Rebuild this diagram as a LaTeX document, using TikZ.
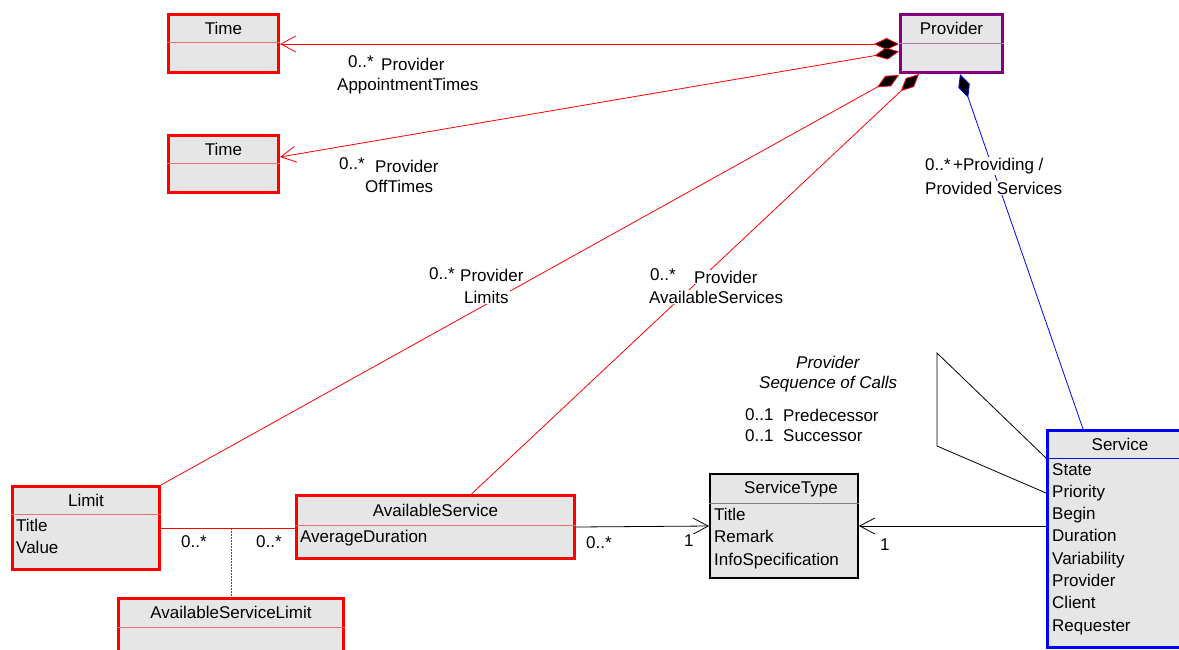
\documentclass[tikz,border=0pt]{standalone}
\usepackage{fontspec}
\setmainfont{Liberation Sans}
\usetikzlibrary{arrows.meta}
\definecolor{boxgray}{RGB}{230,230,230}
\definecolor{umlpurple}{RGB}{128,0,128}
\definecolor{sepred}{RGB}{240,110,110}
\definecolor{seppurple}{RGB}{180,120,180}
\tikzset{
	cls/.style = {rectangle, fill=boxgray, line width=3pt, inner sep=0pt,
		anchor=north west},
	cls_r/.style = {cls, draw=red},
	cls_p/.style = {cls, draw=umlpurple},
	cls_b/.style = {cls, draw=blue},
	cls_k/.style = {cls, draw=black, line width=2pt},
	ttl/.style = {inner sep=0pt, font=\fontsize{17}{20}\selectfont},
	att/.style = {inner sep=0pt, anchor=north west, align=left,
		font=\fontsize{17}{22.3}\selectfont},
	lbl/.style = {inner sep=1pt, anchor=west, fill=white,
		font=\fontsize{17}{20}\selectfont},
	comp/.style = {draw=#1, line width=0.8pt,
		{Diamond[length=25pt,width=12pt,fill=black]}-},
	compnav/.style = {draw=#1, line width=0.8pt,
		{Diamond[length=25pt,width=12pt,fill=black]}-{Straight Barb[length=15pt,width=16pt]}},
	nav/.style = {draw=#1, line width=0.8pt,
		-{Straight Barb[length=15pt,width=16pt]}}
}

\begin{document}
\begin{tikzpicture}[x=1pt,y=-1pt]
\useasboundingbox (0,0) rectangle (1179,649);
% classes
\node[cls_r, minimum width=110pt, minimum height=58pt] (time1) at (167,13) {};
\node[cls_r, minimum width=110pt, minimum height=57pt] (time2) at (167,134) {};
\node[cls_p, minimum width=102pt, minimum height=58pt] (provider) at (899,13) {};
\node[cls_b, minimum width=145pt, minimum height=217pt] (service) at (1046,429) {};
\node[cls_r, minimum width=147pt, minimum height=83pt] (limit) at (11,485) {};
\node[cls_r, minimum width=278pt, minimum height=63pt] (avserv) at (295,494) {};
\node[cls_k, minimum width=148pt, minimum height=104pt] (stype) at (709,473) {};
\node[cls_r, minimum width=225pt, minimum height=60pt] (avslimit) at (117,597) {};
% header lines
\draw[sepred] ([yshift=-29pt]time1.north west) -- ([yshift=-29pt]time1.north east);
\draw[sepred] ([yshift=-29pt]time2.north west) -- ([yshift=-29pt]time2.north east);
\draw[seppurple] ([yshift=-30pt]provider.north west) -- ([yshift=-30pt]provider.north east);
\draw[blue] ([yshift=-29pt]service.north west) -- ([yshift=-29pt]service.north east);
\draw[sepred] ([yshift=-29pt]limit.north west) -- ([yshift=-29pt]limit.north east);
\draw[sepred] ([yshift=-31pt]avserv.north west) -- ([yshift=-31pt]avserv.north east);
\draw[gray] ([yshift=-30pt]stype.north west) -- ([yshift=-30pt]stype.north east);
\draw[sepred] ([yshift=-30pt]avslimit.north west) -- ([yshift=-30pt]avslimit.north east);
% titles and attributes
\node[ttl] at ([yshift=-15pt]time1.north) {Time};
\node[ttl] at ([yshift=-15pt]time2.north) {Time};
\node[ttl] at ([yshift=-15pt]provider.north) {Provider};
\node[ttl] at ([yshift=-15pt]service.north) {Service};
\node[ttl] at ([yshift=-15pt]limit.north) {Limit};
\node[ttl] at ([yshift=-16pt]avserv.north) {AvailableService};
\node[ttl] at ([xshift=7pt,yshift=-16pt]stype.north) {ServiceType};
\node[ttl] at ([yshift=-15pt]avslimit.north) {AvailableServiceLimit};
\node[att] at ([xshift=6pt,yshift=-34pt]service.north west)
	{State\\Priority\\Begin\\Duration\\Variability\\Provider\\Client\\Requester};
\node[att] at ([xshift=5pt,yshift=-34pt]limit.north west) {Title\\Value};
\node[att] at ([xshift=5pt,yshift=-36pt]avserv.north west) {AverageDuration};
\node[att] at ([xshift=5pt,yshift=-35pt]stype.north west)
	{Title\\Remark\\InfoSpecification};
% associations
\draw[compnav=red] ([yshift=-0.5pt]provider.west) -- ([yshift=-0.5pt]time1.east);
\draw[compnav=red] ([yshift=-8pt]provider.west) -- ([yshift=7pt]time2.east);
\draw[comp=red] ([yshift=-1pt]provider.south west) -- (limit.north east);
\draw[comp=red] ([xshift=20pt]provider.south west) -- ([xshift=36pt]avserv.north);
\draw[comp=blue] ([xshift=61pt]provider.south west) -- ([xshift=37pt]service.north west);
\draw[red, line width=0.8pt] (limit.east) -- (limit.east -| avserv.west);
\draw[draw=red, dash pattern=on 2pt off 1pt, line width=1pt] (avslimit.north |- limit.east) -- (avslimit.north);
\draw[nav=black] (avserv.east) -- (stype.west);
\draw[nav=black] (service.west |- stype.east) -- (stype.east);
\coordinate (loop1) at (937,353);
\coordinate (loop2) at (937,446);
\draw[black, line width=0.8pt] ([yshift=-29pt]service.north west) -- (loop1) -- (loop2)
	-- ([yshift=-64pt]service.north west);
% labels
\node[lbl] at (347,62) {0..*};
\node[lbl] at (380,64) {Provider};
\node[lbl] at (336,86) {AppointmentTimes};
\node[lbl] at (338,164) {0..*};
\node[lbl] at (374,166) {Provider};
\node[lbl] at (364,186) {OffTimes};
\node[lbl] at (428,274) {0..*};
\node[lbl] at (459,275) {Provider};
\node[lbl] at (463,297) {Limits};
\node[lbl] at (649,275) {0..*};
\node[lbl] at (693,277) {Provider};
\node[lbl] at (648,297) {AvailableServices};
\node[lbl] at (924,165) {0..*};
\node[lbl] at (952,166) {+Providing /};
\node[lbl] at (924,188) {Provided Services};
\node[lbl, font=\fontsize{17}{20}\selectfont\itshape] at (795,362) {Provider};
\node[lbl, font=\fontsize{17}{20}\selectfont\itshape] at (758,384) {Sequence of Calls};
\node[lbl] at (744,415) {0..1};
\node[lbl] at (782,415) {Predecessor};
\node[lbl] at (744,436) {0..1};
\node[lbl] at (782,436) {Successor};
\node[lbl] at (180,542) {0..*};
\node[lbl] at (255,542) {0..*};
\node[lbl] at (585,543) {0..*};
\node[lbl] at (683,541) {1};
\node[lbl] at (879,545) {1};
\end{tikzpicture}
\end{document}
